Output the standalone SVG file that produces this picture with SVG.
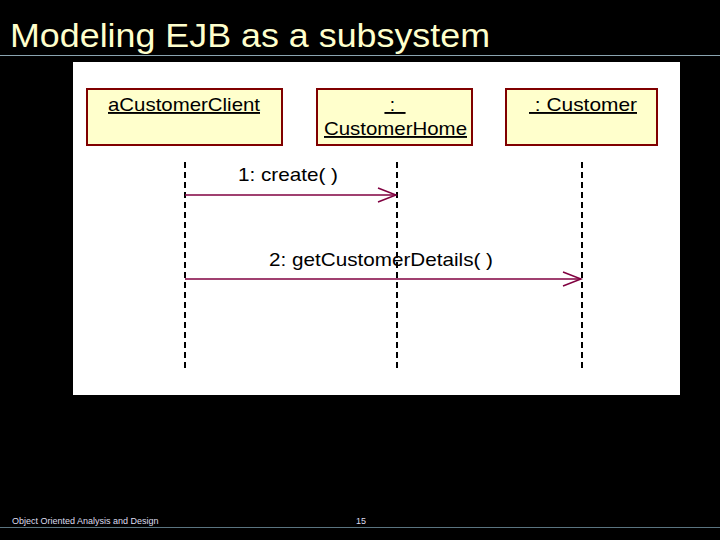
<svg xmlns="http://www.w3.org/2000/svg" width="720" height="540" viewBox="0 0 720 540">
<style>
.box{fill:#ffffcc;stroke:#800000;stroke-width:2}
.lbl{font-family:"Liberation Sans",Arial,sans-serif;font-size:19px;fill:#000;text-decoration:underline}
.life{stroke:#000;stroke-width:2;stroke-dasharray:6,4}
.msg{stroke:#800040;stroke-width:1.5;fill:none}
.mt{font-family:"Liberation Sans",Arial,sans-serif;font-size:19px;fill:#000}
</style>
<rect width="720" height="540" fill="#000"/>
<text x="10" y="47" font-family="Liberation Sans,Arial,sans-serif" font-size="34" fill="#ffffcc" textLength="480" lengthAdjust="spacingAndGlyphs">Modeling EJB as a subsystem</text>
<line x1="0" y1="55.5" x2="720" y2="55.5" stroke="#8aa4b0" stroke-width="1"/>
<rect x="73" y="62" width="607" height="333" fill="#fff"/>
<g id="client"><rect class="box" x="87" y="89" width="195" height="56"/><text class="lbl" x="108" y="111" textLength="152" lengthAdjust="spacingAndGlyphs">aCustomerClient</text></g>
<g id="home"><rect class="box" x="317" y="89" width="155" height="56"/><text class="lbl" x="395" y="111" text-anchor="middle" xml:space="preserve"> :  </text><text class="lbl" x="324" y="135" textLength="143" lengthAdjust="spacingAndGlyphs">CustomerHome</text></g>
<g id="customer"><rect class="box" x="506" y="89" width="151" height="56"/><text class="lbl" x="529" y="111" textLength="108" lengthAdjust="spacingAndGlyphs" xml:space="preserve"> : Customer</text></g>
<g id="connectors">
<line class="life" x1="185" y1="162" x2="185" y2="370"/>
<line class="life" x1="397" y1="162" x2="397" y2="370"/>
<line class="life" x1="582" y1="162" x2="582" y2="370"/>
<line class="msg" x1="185" y1="195" x2="396" y2="195"/><polyline class="msg" points="378,188 396,195 378,202"/>
<line class="msg" x1="185" y1="279" x2="581" y2="279"/><polyline class="msg" points="563,272 581,279 563,286"/>
<text class="mt" x="238" y="181" textLength="100" lengthAdjust="spacingAndGlyphs">1: create( )</text>
<text class="mt" x="269" y="266" textLength="224" lengthAdjust="spacingAndGlyphs">2: getCustomerDetails( )</text>
</g>
<text x="12" y="524" font-family="Liberation Sans,Arial,sans-serif" font-size="9" fill="#dde">Object Oriented Analysis and Design</text>
<text x="356" y="524" font-family="Liberation Sans,Arial,sans-serif" font-size="9" fill="#dde">15</text>
<line x1="0" y1="527.5" x2="720" y2="527.5" stroke="#5a7480" stroke-width="1"/>
</svg>
